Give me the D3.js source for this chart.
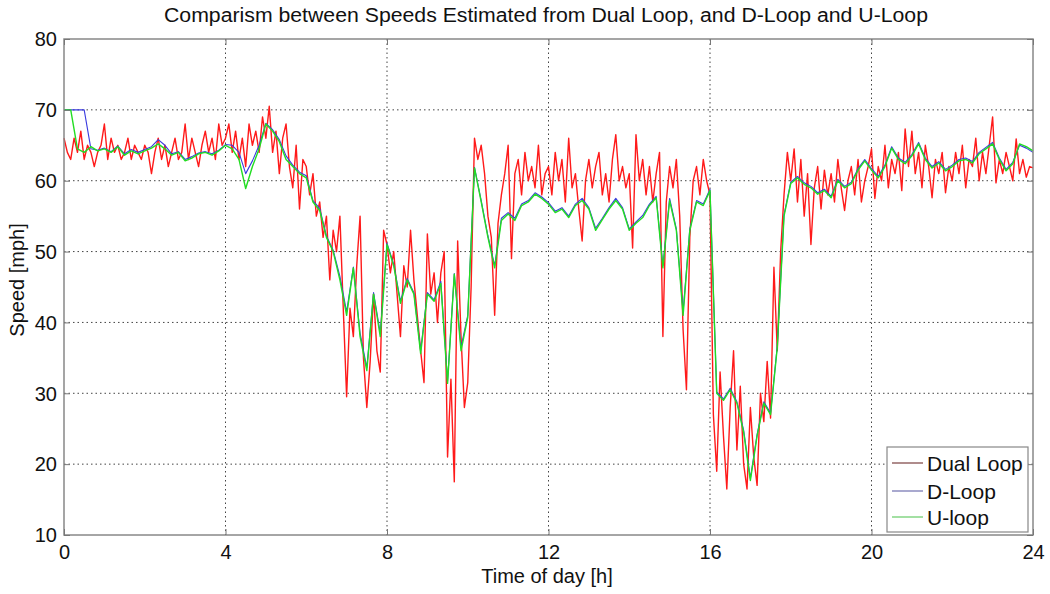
<!DOCTYPE html>
<html><head><meta charset="utf-8">
<script src="https://cdn.jsdelivr.net/npm/d3@7"></script>
<style>
body{margin:0;background:#fff;}
text{font-family:"Liberation Sans",Arial,sans-serif;fill:#111;}
</style></head>
<body><svg id="c" width="1050" height="594"></svg>
<script>
const title = "Comparism between Speeds Estimated from Dual Loop, and D-Loop and U-Loop";
const xLabel = "Time of day [h]";
const yLabel = "Speed [mph]";
const xTicks = [0,4,8,12,16,20,24];
const yTicks = [10,20,30,40,50,60,70,80];
const seriesNames = ["Dual Loop","D-Loop","U-loop"];
const seriesColors = ["#ff1a1a","#3a3adf","#22dd22"];
const legendColors = ["#7a4040","#7070b0","#66cc66"];

// Dual Loop, 5-minute samples, 0h..24h
const dualLoop = [
66,64,63,66,64,67,63,65,64,62,64,65,
68,63,66,64,65,63,64,66,63,65,64,63,
65,64,61,64,66,63,65,62,64,66,63,64,
68,63,66,64,62,65,67,64,66,63,68,65,
66,68,64,67,63,66,62,68,65,67,64,69,
66,70.5,64,67,61,66,68,62,59,65,56,63,
62,58,61,55,57,52,55,46,53,50,55,42,
29.5,42,38,48,55,35,28,34.5,44,36,33,53,
51,47,50,44,38,48,45,53,46,41,36,31.5,
52.5,44,47,40,47,50,21,32,17.5,51.5,38,28,
31.5,45,66,63,65,61,55,52,41,54,58,61,
65,49,61,63,58,64,60,62,59,65,58,61,
62,58,64,60,63,57,66,59,61,56,51.5,60,
63,59,62,64,58,61,57,63,66.5,60,62,59,
61,50.5,66.5,60,63,58,62,57,61,64,38,57,
62,59,63,55,39,30.5,52,60,62,58,63,60,
58,27,19,33,24,16.5,28,36,22,31,20,16.5,
28,21,17,30,26,34.5,26.5,47.8,36,50,58,64,
60,64.5,57,63,55,61,51,59,62,56,61.5,58,
61,57,63,59,55.8,60,62,58,63,57,60,62,
64.5,57.5,62,60,65,59,63,61,64,58.6,67.3,62,
67,61,64,59,65,62,57.6,63,61,64,58.3,62,
60,64,61,65,59,63,62,66,60,64,61,65,
69,59.7,63,61,64,62,60,65.9,61,63,60.5,62,61.8
];

// D-Loop, 10-minute samples
const dLoop = [
70,70,70,70,64.5,64.3,
64.6,64.1,64.9,63.8,64.4,64,
64.4,64.8,65.8,65,63.8,64.1,
63,63.4,63.9,64.1,63.8,64.3,
65.1,65,64,61,62.8,65,
68.1,67.2,65.8,63.5,62.2,61.2,
60.7,57.2,56.1,52.2,50.2,46.5,
41.5,47.8,38.5,33.6,44.2,38.5,
51.2,48.2,43,46.2,44.2,36,
44.2,43.2,45.8,31.7,46.9,36.5,
41,61.9,57.2,52.2,48,54.7,
55.5,54.7,56.7,57.2,58.3,57.7,
56.9,55.7,56.2,55,56.7,57.5,
56.2,53.3,54.7,56.2,57.5,56.2,
53.2,54.2,55.1,56.7,57.8,48,
57.5,53.2,41.5,53.2,57.2,56.7,
58.8,30.2,29.2,30.7,28.8,24.8,
18,24.2,28.8,27.2,36.7,55.2,
59.8,60.6,59.7,59.2,58.3,58.8,
57.8,60.2,59.2,59.8,61.7,63,
61.7,60.6,62.2,64.8,63.2,62.6,
63.7,65.4,63.2,62,62.7,61.6,
62.2,63,63.2,62.7,64,64.7,
65.4,63.2,61.6,62.6,65,64.6,64
];

// U-loop, 10-minute samples
const uLoop = [
70,70,64.5,64,64.8,64.2,
64.5,64,64.8,63.6,64.2,63.8,
64.2,64.6,65.2,64.5,63.6,64,
62.8,63.2,63.8,64,63.6,64.2,
65,64.5,63,58.9,62,64.5,
68,67,65.5,63,62,61,
60.4,57,55.8,52,50,46,
41,47.7,38,33.2,44,38,
51,48,42.7,46,44,35.6,
44,43,45.5,31.4,46.8,36,
40.7,61.8,57,52,47.7,54.4,
55.3,54.4,56.5,57,58.1,57.5,
56.7,55.5,56,54.8,56.5,57.2,
56,53,54.5,56,57.2,56,
53,54,54.8,56.5,57.6,47.7,
57.2,53,41,53,57,56.5,
58.6,30,29,30.5,28.6,24.5,
17.7,24,28.6,27,36.5,55,
59.6,60.4,59.5,59,58.1,58.6,
57.6,60,59,59.6,61.5,62.8,
61.5,60.4,62,64.6,63,62.4,
63.5,65.2,63,61.8,62.5,61.4,
62,62.8,63,62.5,63.8,64.5,
65.2,63,61.4,62.4,65.2,64.8,64.2
];

const svg = d3.select("#c");
const L = 64, R = 1033, T = 39, B = 535;
const x = d3.scaleLinear().domain([0,24]).range([L,R]);
const y = d3.scaleLinear().domain([10,80]).range([B,T]);

// grid
const g = svg.append("g");
g.selectAll(".gx").data(xTicks.slice(1,-1)).enter().append("line")
  .attr("x1",d=>x(d)).attr("x2",d=>x(d)).attr("y1",T).attr("y2",B)
  .attr("stroke","#444").attr("stroke-width",1).attr("stroke-dasharray","1.5,3");
g.selectAll(".gy").data(yTicks.slice(1,-1)).enter().append("line")
  .attr("y1",d=>y(d)).attr("y2",d=>y(d)).attr("x1",L).attr("x2",R)
  .attr("stroke","#444").attr("stroke-width",1).attr("stroke-dasharray","1.5,3");

// data lines
const toPts = (arr, step) => arr.map((v,i)=>[i*step, v]);
const line = d3.line().x(d=>x(d[0])).y(d=>y(d[1]));
const data = [toPts(dualLoop, 24/(dualLoop.length-1)), toPts(dLoop, 24/(dLoop.length-1)), toPts(uLoop, 24/(uLoop.length-1))];
const widths = [1.4, 1.1, 1.4];
data.forEach((pts,i)=>{
  svg.append("path").datum(pts).attr("d",line).attr("fill","none")
    .attr("stroke",seriesColors[i]).attr("stroke-width",widths[i]).attr("stroke-linejoin","round");
});

// axes box
svg.append("rect").attr("x",L).attr("y",T).attr("width",R-L).attr("height",B-T)
  .attr("fill","none").attr("stroke","#888").attr("stroke-width",1.5);
const xAxis = d3.axisBottom(x).tickValues(xTicks).tickSize(-6).tickPadding(10).tickFormat(d3.format("d"));
const yAxis = d3.axisLeft(y).tickValues(yTicks).tickSize(-6).tickPadding(7).tickFormat(d3.format("d"));
const xa = svg.append("g").attr("transform",`translate(0,${B})`).call(xAxis);
const ya = svg.append("g").attr("transform",`translate(${L},0)`).call(yAxis);
svg.append("g").attr("transform",`translate(0,${T})`).call(d3.axisTop(x).tickValues(xTicks).tickSize(-6).tickFormat(""));
svg.append("g").attr("transform",`translate(${R},0)`).call(d3.axisRight(y).tickValues(yTicks).tickSize(-6).tickFormat(""));
svg.selectAll(".domain").remove();
svg.selectAll(".tick line").attr("stroke","#777");
xa.selectAll("text").attr("font-size",20).attr("font-family","Liberation Sans, Arial, sans-serif").attr("fill","#111");
ya.selectAll("text").attr("font-size",20).attr("font-family","Liberation Sans, Arial, sans-serif").attr("fill","#111").attr("dy","0.34em");

// labels
svg.append("text").attr("x",546).attr("y",22).attr("text-anchor","middle").attr("font-size",20)
  .attr("textLength",764).attr("lengthAdjust","spacingAndGlyphs").text(title);
svg.append("text").attr("x",547).attr("y",583).attr("text-anchor","middle").attr("font-size",20).text(xLabel);
svg.append("text").attr("transform","translate(24,280) rotate(-90)").attr("text-anchor","middle").attr("font-size",20).text(yLabel);

// legend
const lg = svg.append("g");
lg.append("rect").attr("x",887).attr("y",447).attr("width",141).attr("height",85)
  .attr("fill","#fff").attr("stroke","#888").attr("stroke-width",1.2);
const ly = [463,491,517];
seriesNames.forEach((n,i)=>{
  lg.append("line").attr("x1",892).attr("x2",923).attr("y1",ly[i]).attr("y2",ly[i])
    .attr("stroke",legendColors[i]).attr("stroke-width",1.2);
  lg.append("text").attr("x",927).attr("y",ly[i]).attr("dy","0.36em").attr("font-size",21).text(n);
});
</script></body></html>
